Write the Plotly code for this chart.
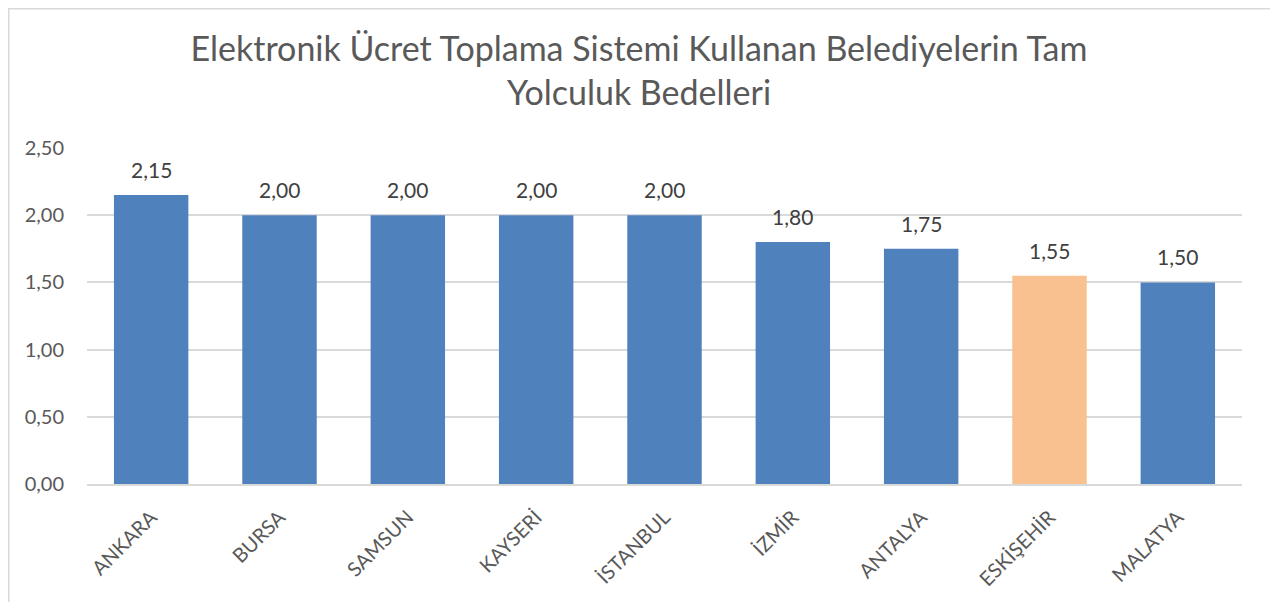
import plotly.graph_objects as go

cities = ["ANKARA", "BURSA", "SAMSUN", "KAYSERİ", "İSTANBUL", "İZMİR", "ANTALYA", "ESKİŞEHİR", "MALATYA"]
fares = [2.15, 2.00, 2.00, 2.00, 2.00, 1.80, 1.75, 1.55, 1.50]
highlight = "ESKİŞEHİR"
y_ticks = [0, 0.5, 1.0, 1.5, 2.0, 2.5]

BLUE = "#4F81BD"
ORANGE = "#F9C090"
FONT = "Lato, sans-serif"
colors = [ORANGE if c == highlight else BLUE for c in cities]

def fmt(v):
    return f"{v:.2f}".replace(".", ",")

fig = go.Figure(go.Bar(
    x=cities, y=fares, marker=dict(color=colors, line=dict(width=0)),
    hoverinfo="x+y"
))

for c, v in zip(cities, fares):
    fig.add_annotation(x=c, y=v, text=fmt(v), showarrow=False, yanchor="bottom",
                       yshift=11, font=dict(family=FONT, size=21, color="#404040"))

# page has an 8px body margin; figure sized to fill the remaining window
W, H = 1270, 594
L, R, T, B = 79, 36, 140, 118
pw, ph = W - L - R, H - T - B

fig.add_shape(type="rect", xref="paper", yref="paper",
              x0=(0.75 - L) / pw, x1=(1264 - L) / pw,
              y0=-(B + 10) / ph, y1=(ph + T - 0.75) / ph,
              line=dict(color="#D9D9D9", width=1.5), layer="below")

fig.update_layout(
    width=W, height=H,
    margin=dict(l=L, r=R, t=T, b=B),
    paper_bgcolor="white", plot_bgcolor="white",
    bargap=0.42,
    separators=",.",
    showlegend=False,
    font=dict(family=FONT, color="#595959"),
    title=dict(text="Elektronik Ücret Toplama Sistemi Kullanan Belediyelerin Tam<br>Yolculuk Bedelleri",
               x=(639 - 8) / W, xref="container", xanchor="center", y=1 - 53 / H, yanchor="middle",
               font=dict(family=FONT, size=34, color="#595959")),
    yaxis=dict(range=[0, 2.5], tickvals=y_ticks, tickformat=".2f", showgrid=True,
               gridcolor="#D9D9D9", gridwidth=1.5, zeroline=False, showline=False,
               tickfont=dict(size=20, color="#595959"), ticks="", ticklabelstandoff=22),
    xaxis=dict(tickangle=-45, showline=True, linecolor="#D9D9D9", linewidth=1.5,
               tickfont=dict(size=20, color="#595959"), ticks="", ticklabelstandoff=12),
)

fig.write_html("out.html")
